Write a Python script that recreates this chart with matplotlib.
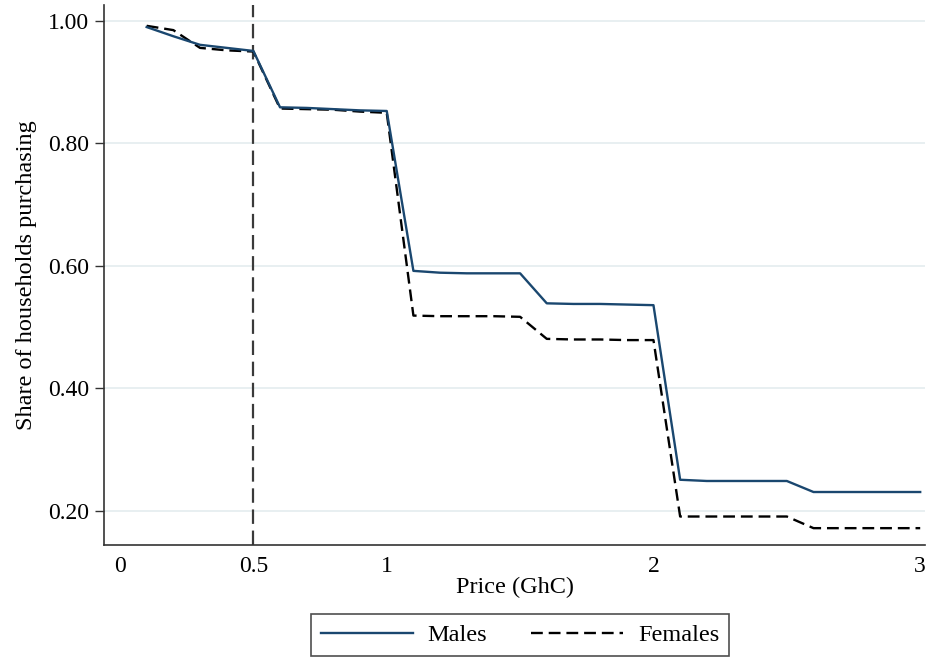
import matplotlib
matplotlib.use("Agg")
import matplotlib.pyplot as plt

plt.rcParams['font.family'] = ['Liberation Serif', 'DejaVu Serif']

price = [0.1, 0.2, 0.3, 0.4, 0.5, 0.6, 0.7, 0.8, 0.9, 1.0,
         1.1, 1.2, 1.3, 1.4, 1.5, 1.6, 1.7, 1.8, 1.9, 2.0,
         2.1, 2.2, 2.3, 2.4, 2.5, 2.6, 2.7, 2.8, 2.9, 3.0]
males = [0.990, 0.975, 0.961, 0.956, 0.951, 0.859, 0.858, 0.856, 0.854, 0.853,
         0.592, 0.589, 0.588, 0.588, 0.588, 0.539, 0.538, 0.538, 0.537, 0.536,
         0.251, 0.249, 0.249, 0.249, 0.249, 0.231, 0.231, 0.231, 0.231, 0.231]
females = [0.992, 0.985, 0.956, 0.952, 0.950, 0.857, 0.856, 0.855, 0.852, 0.850,
           0.519, 0.518, 0.518, 0.518, 0.517, 0.481, 0.480, 0.480, 0.479, 0.479,
           0.191, 0.191, 0.191, 0.191, 0.191, 0.172, 0.172, 0.172, 0.172, 0.172]
xticks = [0, 0.5, 1, 2, 3]
xticklabels = ["0", "0.5", "1", "2", "3"]
yticks = [0.2, 0.4, 0.6, 0.8, 1.0]
yticklabels = ["0.20", "0.40", "0.60", "0.80", "1.00"]
cutoff = 0.5

fig = plt.figure(figsize=(9.3, 6.62), dpi=100)
ax = fig.add_axes([104/930, 1-545/662, 821/930, 540/662])

ax.set_xlim(-0.06, 3.018)
ax.set_ylim(0.1445, 1.026)

for y in yticks:
    ax.axhline(y, color='#e6eef0', lw=1.3, zorder=0)
ax.axvline(cutoff, color='#3a3a3a', lw=1.6, dashes=(6.5, 3), zorder=1)

ax.plot(price, males, color='#1a476f', lw=1.7, label='Males', zorder=3)
ax.plot(price, females, color='black', lw=1.7, dashes=(5, 2.5), label='Females', zorder=2)

ax.set_xticks(xticks)
ax.set_xticklabels(xticklabels)
ax.set_yticks(yticks)
ax.set_yticklabels(yticklabels)
ax.tick_params(axis='x', length=0, pad=8, labelsize=17)
ax.tick_params(axis='y', length=6.5, width=1, pad=4, labelsize=17, color='#333333')

for s in ['top', 'right']:
    ax.spines[s].set_visible(False)
for s in ['left', 'bottom']:
    ax.spines[s].set_color('#333333')
    ax.spines[s].set_linewidth(1.2)

ax.set_xlabel('Price (GhC)', fontsize=17.5, labelpad=0)
ax.set_ylabel('Share of households purchasing', fontsize=17.5, labelpad=8)

leg = fig.legend(loc='upper center', bbox_to_anchor=(520/930, 1-614/662),
                 ncol=2, fontsize=17.5, frameon=True, fancybox=False,
                 handlelength=3.8, columnspacing=1.8, handletextpad=0.6,
                 borderpad=0.42, borderaxespad=0)
leg.get_frame().set_edgecolor('#222222')
leg.get_frame().set_linewidth(1.2)

fig.savefig('out.png', dpi=100)
